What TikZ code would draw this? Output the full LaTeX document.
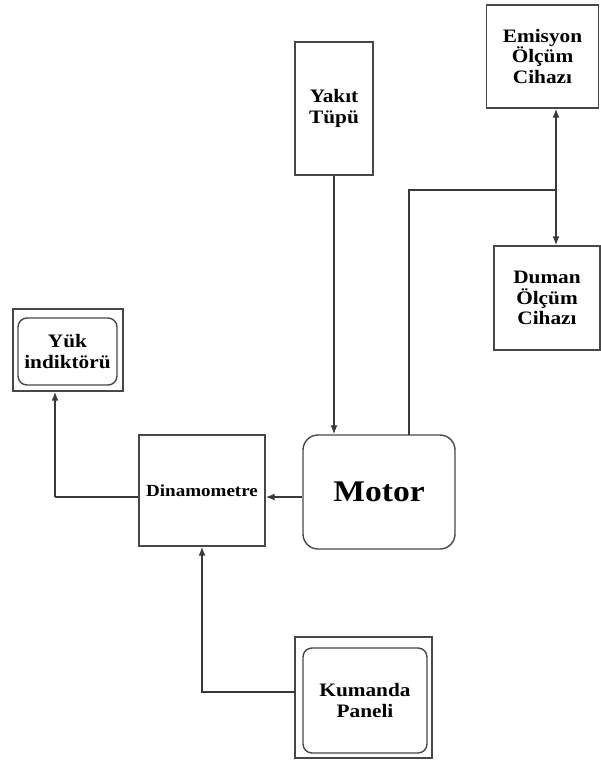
\documentclass[tikz,border=0pt]{standalone}
\usepackage{fontspec}
\setmainfont[FakeStretch=1.12]{Liberation Serif}
\usetikzlibrary{arrows.meta,calc}
\begin{document}
\begin{tikzpicture}[x=1pt,y=-1pt,
  boxline/.style={draw=black!72,line width=1.4pt},
  plainbox/.style={boxline,rectangle,inner sep=0pt,align=center,
    font=\bfseries\fontsize{19}{20.5}\selectfont},
  roundbox/.style={boxline,rectangle,rounded corners=9pt,inner sep=0pt,align=center,
    font=\bfseries\fontsize{19}{20.5}\selectfont},
  conn/.style={draw=black!78,line width=1.5pt},
  arr/.style={conn,-{Latex[length=9pt,width=7pt]}}]
\useasboundingbox (0,0) rectangle (601,760);
% boxes
\node[plainbox,minimum width=112pt,minimum height=103pt] (emis) at (542.5,56.5) {Emisyon\\Ölçüm\\Cihazı};
\node[plainbox,minimum width=78pt,minimum height=133pt] (yakit) at (334,108.5) {Yakıt\\Tüpü};
\node[plainbox,minimum width=106pt,minimum height=104pt] (duman) at (547,298) {Duman\\Ölçüm\\Cihazı};
\node[boxline,rectangle,minimum width=110pt,minimum height=82pt] (yuk) at (68,350) {};
\node[roundbox,minimum width=99pt,minimum height=67pt] (yukin) at (67.5,351.5) {Yük\\indiktörü};
\node[plainbox,minimum width=126pt,minimum height=111pt,font=\bfseries\fontsize{17}{18}\selectfont] (dina) at (202,490.5) {Dinamometre};
\node[roundbox,rounded corners=15pt,minimum width=152pt,minimum height=114pt,font=\bfseries\fontsize{30}{32}\selectfont] (motor) at (379,492) {Motor};
\node[boxline,rectangle,minimum width=137pt,minimum height=121pt] (kum) at (363.5,697.5) {};
\node[roundbox,minimum width=124pt,minimum height=105pt] (kumin) at (365,700.5) {Kumanda\\Paneli};
% connectors
\coordinate (mtop) at (409,435);
\coordinate (j) at (556,190);
\coordinate (yukbend) at (55,497);
\coordinate (kumout) at (296,692);
\draw[arr] (yakit.south) -- (yakit.south |- motor.north);
\draw[conn] (mtop) |- (j);
\draw[arr] (j) -- (j |- emis.south);
\draw[arr] (j) -- (j |- duman.north);
\draw[arr] ($(motor.west)+(0,5)$) -- ($(motor.west -| dina.east)+(0,5)$);
\draw[conn] ($(dina.west)+(0,6.5)$) -- (yukbend);
\draw[arr] (yukbend) -- (yukbend |- yuk.south);
\draw[arr] (kumout) -| (dina.south);
\end{tikzpicture}
\end{document}
